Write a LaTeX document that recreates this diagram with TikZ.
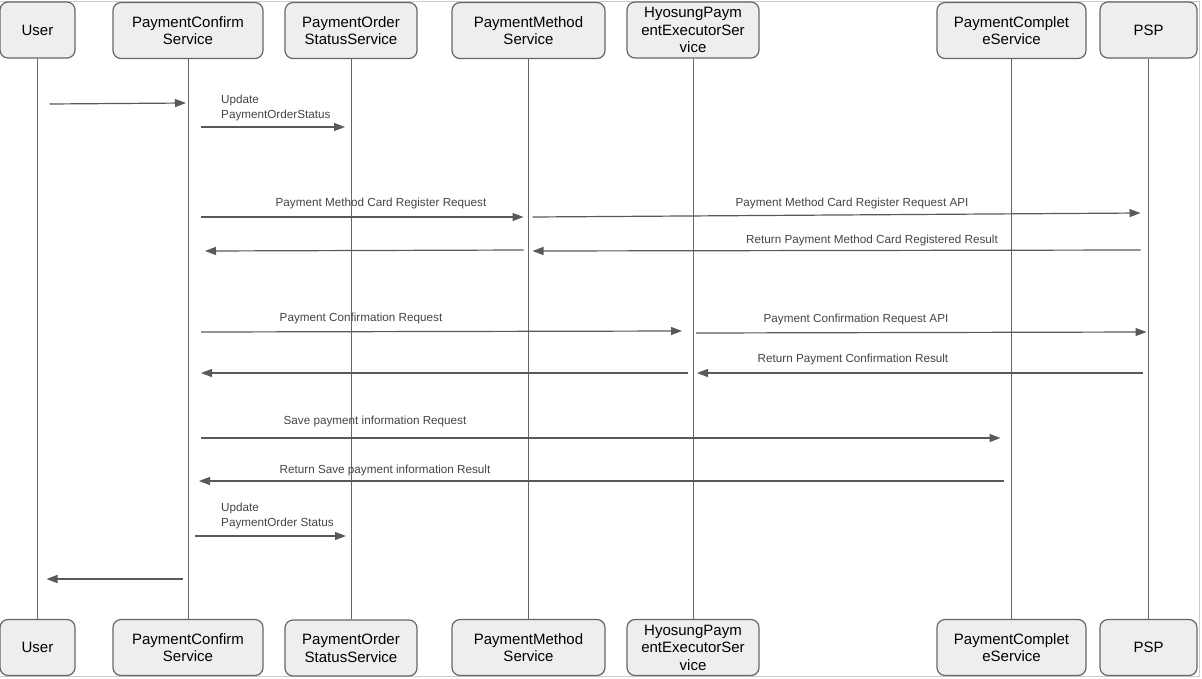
\documentclass[tikz,border=0pt]{standalone}
\usepackage{fontspec}
\setmainfont{Liberation Sans}
\usetikzlibrary{arrows.meta,calc}
\definecolor{boxfill}{HTML}{EEEEEE}
\definecolor{boxline}{HTML}{666666}
\definecolor{arr}{HTML}{595959}
\definecolor{lbl}{HTML}{444444}
\definecolor{framec}{HTML}{CCCCCC}
\tikzset{
  actor/.style={draw=boxline, fill=boxfill, rounded corners=8pt, line width=1.2pt,
    align=center, font=\fontsize{15}{17.5}\selectfont, inner sep=0pt, minimum height=56pt},
  life/.style={draw=boxline, line width=1pt},
  msg/.style={draw=arr, line width=1.2pt, -{Triangle[length=11pt,width=8pt]}},
  lab/.style={font=\fontsize{11.7}{15}\selectfont, text=lbl, inner sep=0pt},
  labl/.style={lab, align=left, anchor=north west}
}
\begin{document}
\begin{tikzpicture}[x=1pt,y=-1pt]
\useasboundingbox (0,0) rectangle (1202,678);
\draw[framec, line width=1pt] (0,1) -- (1199.5,1) -- (1199.5,676.5) -- (0,676.5);

% top actors
\node[actor, minimum width=75pt]  (u)   at (37.5,30) {User};
\node[actor, minimum width=150pt] (pc)  at (188,30.5)  {PaymentConfirm\\Service};
\node[actor, minimum width=132pt] (pos) at (351,30.5)  {PaymentOrder\\StatusService};
\node[actor, minimum width=153pt] (pm)  at (528.5,30.5) {PaymentMethod\\Service};
\node[actor, minimum width=132pt] (hy)  at (693,30)  {HyosungPaym\\entExecutorSer\\vice};
\node[actor, minimum width=149pt] (pcs) at (1011.5,30.5) {PaymentComplet\\eService};
\node[actor, minimum width=97pt]  (psp) at (1148.5,30) {PSP};

% bottom actors
\node[actor, minimum width=75pt]  (u2)   at (37.5,647.5) {User};
\node[actor, minimum width=150pt] (pc2)  at (188,647.5)  {PaymentConfirm\\Service};
\node[actor, minimum width=132pt] (pos2) at (351,648)  {PaymentOrder\\StatusService};
\node[actor, minimum width=153pt] (pm2)  at (528.5,647.5) {PaymentMethod\\Service};
\node[actor, minimum width=132pt] (hy2)  at (693,647.5)  {HyosungPaym\\entExecutorSer\\vice};
\node[actor, minimum width=149pt] (pcs2) at (1011.5,647.5) {PaymentComplet\\eService};
\node[actor, minimum width=97pt]  (psp2) at (1148.5,647.5) {PSP};

% lifelines
\draw[life] (u) -- (u2);
\draw[life] (pc) -- (pc2);
\draw[life] (pos) -- (pos2);
\draw[life] (pm) -- (pm2);
\draw[life] (hy) -- (hy2);
\draw[life] (pcs) -- (pcs2);
\draw[life] (psp) -- (psp2);

% messages
\draw[msg] ($(u |- 0,104)+(12,0)$) -- ($(pc |- 0,103)+(-2,0)$);
\draw[msg] ($(pc |- 0,127)+(13,0)$) -- ($(pos |- 0,127)+(-6,0)$);
\node[labl] (l2) at (221,95) {Update\\PaymentOrderStatus};

\draw[msg] ($(pc |- 0,217)+(13,0)$) -- ($(pm |- 0,217)+(-5,0)$);
\node[lab] (l3) at (381,203.5) {Payment Method Card Register Request};
\draw[msg] ($(pm |- 0,217)+(4,0)$) -- ($(psp |- 0,213)+(-8,0)$);
\node[lab] (l4) at (852,203.5) {Payment Method Card Register Request API};
\draw[msg] ($(psp |- 0,250)+(-8,0)$) -- ($(pm |- 0,251)+(4,0)$);
\node[lab] (l5) at (872,240.5) {Return Payment Method Card Registered Result};
\draw[msg] ($(pm |- 0,250)+(-5,0)$) -- ($(pc |- 0,251)+(17,0)$);

\draw[msg] ($(pc |- 0,332)+(13,0)$) -- ($(hy |- 0,331)+(-11,0)$);
\node[lab] (l7) at (361,318.5) {Payment Confirmation Request};
\draw[msg] ($(hy |- 0,333)+(3,0)$) -- ($(psp |- 0,332)+(-2,0)$);
\node[lab] (l8) at (856,319.5) {Payment Confirmation Request API};
\draw[msg] ($(psp |- 0,373)+(-6,0)$) -- ($(hy |- 0,373)+(4,0)$);
\node[lab] (l9) at (853,359.5) {Return Payment Confirmation Result};
\draw[msg] ($(hy |- 0,373)+(-5,0)$) -- ($(pc |- 0,373)+(13,0)$);

\draw[msg] ($(pc |- 0,438)+(13,0)$) -- ($(pcs |- 0,438)+(-11,0)$);
\node[lab] (l11) at (375,421.5) {Save payment information Request};
\draw[msg] ($(pcs |- 0,481)+(-8,0)$) -- ($(pc |- 0,481)+(11,0)$);
\node[lab] (l12) at (385,470.5) {Return Save payment information Result};

\draw[msg] ($(pc |- 0,536)+(7,0)$) -- ($(pos |- 0,536)+(-5,0)$);
\node[labl] (l13) at (221,503) {Update\\PaymentOrder Status};

\draw[msg] ($(pc |- 0,579)+(-5,0)$) -- ($(u |- 0,579)+(9,0)$);
\end{tikzpicture}
\end{document}
